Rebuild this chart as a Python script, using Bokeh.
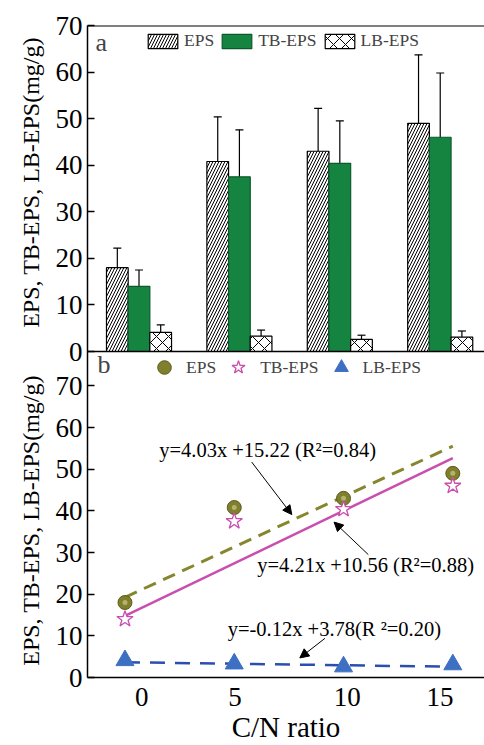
import math
from bokeh.plotting import figure
from bokeh.models import (ColumnDataSource, Range1d, LinearAxis, FixedTicker, Span, Whisker,
                          TeeHead, Legend, LegendItem, Label, Arrow, NormalHead)
from bokeh.embed import file_html
from bokeh.resources import INLINE

# ---------------- data ----------------
cn_labels = ["0", "5", "10", "15"]
eps = [18.0, 40.8, 43.0, 49.0]
eps_err = [4.2, 9.6, 9.2, 14.7]
tb = [14.0, 37.5, 40.4, 46.0]
tb_err = [3.5, 10.1, 9.1, 13.8]
lb = [4.1, 3.3, 2.6, 3.1]
lb_err = [1.6, 1.3, 0.9, 1.3]
fit_x = [1, 4, 7, 10]
slopes = [4.03, 4.21, -0.12]
intercepts = [15.22, 10.56, 3.78]
eq_texts = ["y=4.03x +15.22 (R\u00b2=0.84)",
            "y=4.21x +10.56 (R\u00b2=0.88)",
            "y=-0.12x +3.78(R \u00b2=0.20)"]
y_tick_vals = [0, 10, 20, 30, 40, 50, 60, 70]
series_names = ["EPS", "TB-EPS", "LB-EPS"]
y_title = "EPS, TB-EPS, LB-EPS(mg/g)"
x_title = "C/N ratio"

FONT = "Liberation Serif"

# ---------------- ranges ----------------
top_y = (-70.0, 70.0)          # top panel: 0..70 in upper half
bot_y = (0.0, 156.5)           # bottom panel: 0..78 in lower half
gx = [i + 1 for i in range(len(eps))]
top_x = (0.487, 4.441)
bot_x = (-0.029, 10.87)

p = figure(width=484, height=745, output_backend="svg", toolbar_location=None,
           x_range=Range1d(*top_x), y_range=Range1d(*top_y),
           x_axis_location=None, y_axis_location=None,
           min_border_left=87, min_border_right=0, min_border_top=25, min_border_bottom=68)
p.outline_line_color = None
p.xgrid.visible = False
p.ygrid.visible = False
p.background_fill_color = "white"
p.border_fill_color = "white"
p.extra_x_ranges = {"bot": Range1d(*bot_x)}
p.extra_y_ranges = {"bot": Range1d(*bot_y)}

# ---------------- left axis (both panels) ----------------
def bot_to_top(v):
    return top_y[0] + (v - bot_y[0]) * (top_y[1] - top_y[0]) / (bot_y[1] - bot_y[0])

ticks = []
overrides = {}
for v in y_tick_vals:
    t = float(v)
    ticks.append(t)
    overrides[t] = str(v)
for v in y_tick_vals:
    t = bot_to_top(v)
    ticks.append(t)
    overrides[t] = str(v)

yax = LinearAxis(ticker=FixedTicker(ticks=ticks, minor_ticks=[]), major_label_overrides=overrides)
yax.major_tick_in = 7
yax.major_tick_out = 0
yax.major_tick_line_width = 1.5
yax.axis_line_width = 1.5
yax.major_label_standoff = 5
yax.major_label_text_font = FONT
yax.major_label_text_font_size = "27px"
yax.major_label_text_color = "black"
p.add_layout(yax, "left")

# y titles (one per panel) drawn as rotated labels of an outer axis
title_pos = [36.3, bot_to_top(37.7)]
tax = LinearAxis(ticker=FixedTicker(ticks=title_pos, minor_ticks=[]),
                 major_label_overrides={t: y_title for t in title_pos})
tax.axis_line_color = None
tax.major_tick_line_color = None
tax.major_tick_in = 0
tax.major_tick_out = 0
tax.major_label_orientation = "vertical"
tax.major_label_standoff = 8
tax.major_label_text_font = FONT
tax.major_label_text_font_size = "24px"
tax.major_label_text_color = "black"
p.add_layout(tax, "left")

# bottom x axis
xt = [1.46, 4.02, 7.1, 9.65]
xax = LinearAxis(x_range_name="bot", ticker=FixedTicker(ticks=xt, minor_ticks=[]),
                 major_label_overrides={t: l for t, l in zip(xt, cn_labels)})
xax.major_tick_in = 0
xax.major_tick_out = 0
xax.axis_line_width = 1.5
xax.major_label_standoff = 10
xax.major_label_text_font = FONT
xax.major_label_text_font_size = "27px"
xax.major_label_text_color = "black"
xax.axis_label = x_title
xax.axis_label_text_font = FONT
xax.axis_label_text_font_size = "29px"
xax.axis_label_text_font_style = "normal"
xax.axis_label_text_color = "black"
xax.axis_label_standoff = 2
p.add_layout(xax, "below")

# frame lines
p.add_layout(Span(location=top_y[1], dimension="width", line_color="black", line_width=2))
p.add_layout(Span(location=0, dimension="width", line_color="black", line_width=1.5))

# ---------------- top panel: bars ----------------
bw = 0.216
r_eps = p.vbar(x=[g - bw for g in gx], top=eps, bottom=0, width=bw, fill_color="white",
               hatch_pattern="/", hatch_scale=6, hatch_color="black", hatch_weight=1,
               line_color="black", line_width=1.2)
r_tb = p.vbar(x=gx, top=tb, bottom=0, width=bw, fill_color="#148440",
              line_color="#0c5a2b", line_width=1.2)
r_lb = p.vbar(x=[g + bw for g in gx], top=lb, bottom=0, width=bw, fill_color="white",
              hatch_pattern="x", hatch_scale=12, hatch_color="black", hatch_weight=1,
              line_color="black", line_width=1.2)

for off, vals, errs in [(-bw, eps, eps_err), (0, tb, tb_err), (bw, lb, lb_err)]:
    src = ColumnDataSource(dict(x=[g + off for g in gx],
                                up=[v + e for v, e in zip(vals, errs)],
                                lo=[v - e for v, e in zip(vals, errs)]))
    w = Whisker(base="x", upper="up", lower="lo", source=src, dimension="height",
                line_color="black", line_width=1.2,
                upper_head=TeeHead(size=8, line_color="black", line_width=1.2),
                lower_head=TeeHead(size=8, line_color="black", line_width=1.2))
    p.add_layout(w)

leg_top = Legend(items=[LegendItem(label=series_names[0], renderers=[r_eps]),
                        LegendItem(label=series_names[1], renderers=[r_tb]),
                        LegendItem(label=series_names[2], renderers=[r_lb])],
                 location=(57, 626), orientation="horizontal",
                 glyph_width=37, glyph_height=18, label_height=21, label_standoff=3, spacing=4,
                 padding=0, margin=0, border_line_color=None, background_fill_alpha=0,
                 label_text_font=FONT, label_text_font_size="17.5px")
p.add_layout(leg_top)

# ---------------- bottom panel: scatter + fits ----------------
olive = "#7f7f2d"
pink = "#c94fae"
blue = "#3d6fc2"
x0, x1 = min(fit_x), max(fit_x)
line_styles = [dict(line_color="#86862f", line_width=3, line_dash="13 8"),
               dict(line_color=pink, line_width=2.5),
               dict(line_color="#2b4fae", line_width=2.5, line_dash="15 10")]
for s, b, st in zip(slopes, intercepts, line_styles):
    p.line(x=[x0, x1], y=[s * x0 + b, s * x1 + b], x_range_name="bot", y_range_name="bot", **st)

s_eps = p.scatter(x=fit_x, y=eps, marker="circle", size=14, fill_color=olive,
                  line_color="#5c5c1c", line_width=1, x_range_name="bot", y_range_name="bot")
p.scatter(x=fit_x, y=eps, marker="circle", size=5, fill_color="#c9c98a", line_color=None,
          fill_alpha=0.7, x_range_name="bot", y_range_name="bot")
s_tb = p.scatter(x=fit_x, y=tb, marker="star", size=17, fill_color="white",
                 line_color=pink, line_width=1.3, x_range_name="bot", y_range_name="bot")
s_lb = p.scatter(x=fit_x, y=lb, marker="triangle", size=18, fill_color=blue,
                 line_color=blue, x_range_name="bot", y_range_name="bot")

leg_bot = Legend(items=[LegendItem(label=series_names[0], renderers=[s_eps]),
                        LegendItem(label=series_names[1], renderers=[s_tb]),
                        LegendItem(label=series_names[2], renderers=[s_lb])],
                 location=(60, 293), orientation="horizontal",
                 glyph_width=34, glyph_height=34, label_height=34, label_standoff=5, spacing=5,
                 padding=0, margin=0, border_line_color=None, background_fill_alpha=0,
                 label_text_font=FONT, label_text_font_size="17.5px")
p.add_layout(leg_bot)

# equations
eq_pos = [(1.94, 54.5), (4.63, 26.9), (3.82, 11.7)]
for (ex, ey), t in zip(eq_pos, eq_texts):
    p.add_layout(Label(x=ex, y=ey, text=t, x_range_name="bot", y_range_name="bot",
                       text_align="left", text_baseline="middle", text_font=FONT,
                       text_font_size="20.5px", text_color="black"))

arrows = [((4.48, 51.7), (5.58, 39.1)), ((7.68, 29.5), (6.74, 37.3)), ((6.49, 9.4), (5.80, 4.7))]
for (sx, sy), (ex, ey) in arrows:
    p.add_layout(Arrow(x_start=sx, y_start=sy, x_end=ex, y_end=ey, x_range_name="bot",
                       y_range_name="bot", line_color="black", line_width=1,
                       end=NormalHead(size=9, fill_color="black", line_color="black", line_width=1)))

# panel letters
p.add_layout(Label(x=0.567, y=66.4, text="a", text_align="left", text_baseline="middle",
                   text_font=FONT, text_font_size="26px"))
p.add_layout(Label(x=0.587, y=-2.8, text="b", text_align="left", text_baseline="middle",
                   text_font=FONT, text_font_size="26px"))

open("out.html", "w").write(file_html(p, INLINE))
